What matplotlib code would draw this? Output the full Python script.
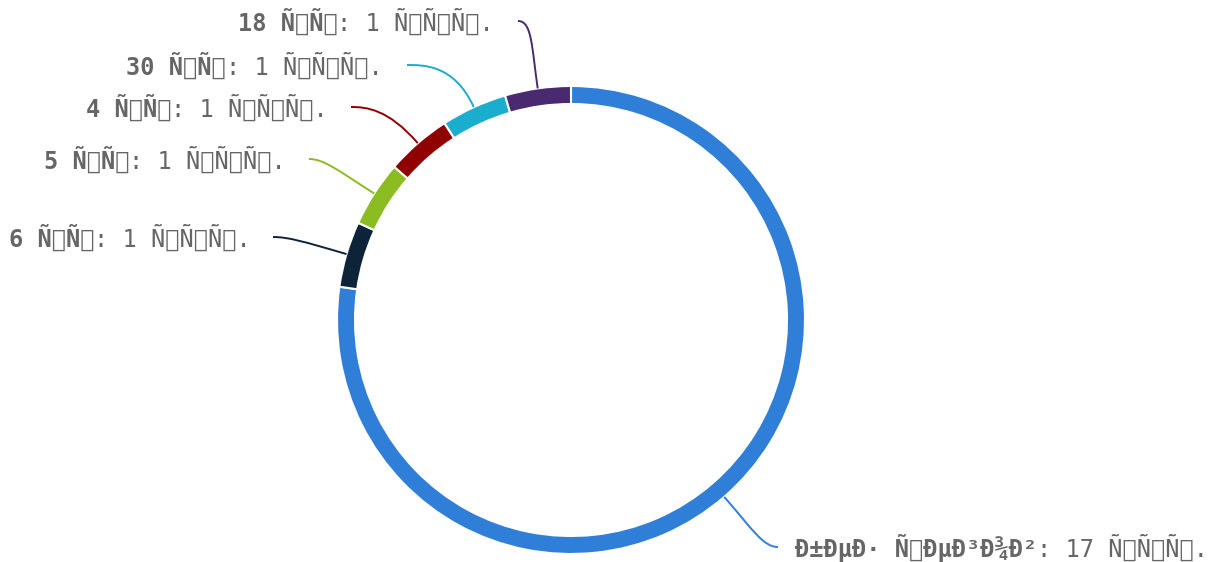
import warnings
import matplotlib
matplotlib.use("Agg")
import matplotlib.pyplot as plt
import numpy as np
from matplotlib.path import Path
from matplotlib.patches import PathPatch

warnings.filterwarnings("ignore")

# Дані (підписи збережено як у оригіналі)
names = ["Ð±ÐµÐ· Ñ\x82ÐµÐ³Ð¾Ð²", "6 Ñ\x88Ñ\x82", "5 Ñ\x88Ñ\x82",
         "4 Ñ\x88Ñ\x82", "30 Ñ\x88Ñ\x82", "18 Ñ\x88Ñ\x82"]
values = [17, 1, 1, 1, 1, 1]
value_unit = " Ñ\x82Ñ\x8bÑ\x81."
colors = ["#2f7ed8", "#0d233a", "#8bbc21", "#910000", "#1aadce", "#492970"]

# Розкладка підписів (пікселі, y зверху): x тексту, x початку лінії, y
text_x = [795, 251, 286, 328, 383, 494]
line_x = [778, 273, 309, 351, 407, 518]
label_y = [548, 238, 160, 108, 66, 22]

W, H = 1214, 562
fig = plt.figure(figsize=(W / 100, H / 100), dpi=100)
ax = fig.add_axes([0, 0, 1, 1])

cx, cy, R = 571, H - 320, 234
wedges, _ = ax.pie(values, colors=colors, startangle=90, counterclock=False,
                   center=(cx, cy), radius=R,
                   wedgeprops=dict(width=18, edgecolor="white", linewidth=1.5))
ax.set_xlim(0, W)
ax.set_ylim(0, H)
ax.set_aspect("equal")
ax.axis("off")

font = dict(family="DejaVu Sans Mono", fontsize=17, color="#666666", va="center")
renderer = fig.canvas.get_renderer()

for i, w in enumerate(wedges):
    mid = np.deg2rad((w.theta1 + w.theta2) / 2)
    radial = np.array([np.cos(mid), np.sin(mid)])
    anchor = np.array([cx, cy]) + R * radial
    y = H - label_y[i]
    start = np.array([line_x[i], y + 1])
    side = 1 if line_x[i] < cx else -1
    dist = np.hypot(*(anchor - start))
    p1 = start + np.array([side * 0.2 * dist, 0])
    p2 = anchor + radial * 0.6 * dist
    path = Path([start, p1, p2, anchor],
                [Path.MOVETO, Path.CURVE4, Path.CURVE4, Path.CURVE4])
    ax.add_patch(PathPatch(path, fill=False, edgecolor=colors[i], linewidth=1.4))

    val = ": %d%s" % (values[i], value_unit)
    if side == 1:
        t = ax.text(text_x[i], y, val, ha="right", **font)
        bb = t.get_window_extent(renderer)
        ax.text(bb.x0, y, names[i], ha="right", fontweight="bold", **font)
    else:
        t = ax.text(text_x[i], y, names[i], ha="left", fontweight="bold", **font)
        bb = t.get_window_extent(renderer)
        ax.text(bb.x1, y, val, ha="left", **font)

fig.savefig("out.png", dpi=100, facecolor="white")
